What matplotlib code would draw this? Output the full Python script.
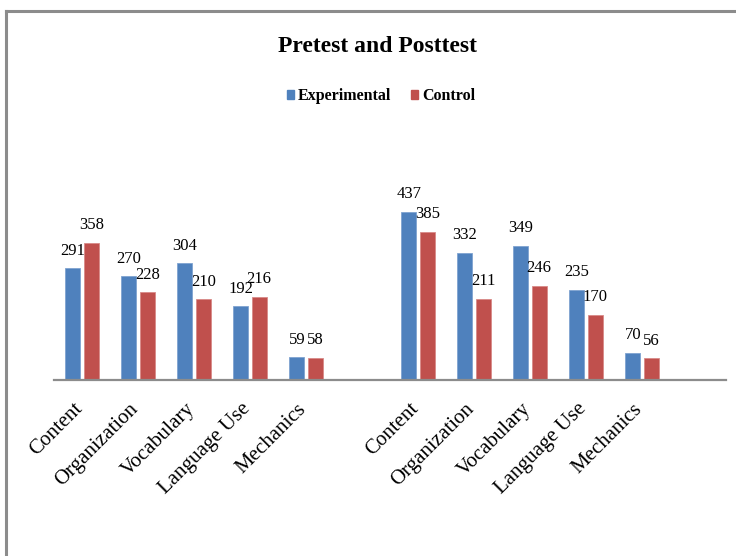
import matplotlib
matplotlib.use('Agg')
import matplotlib.pyplot as plt
import matplotlib.transforms as mtransforms
from matplotlib.lines import Line2D
import numpy as np

# data: pretest group, then posttest group
skills = ['Content', 'Organization', 'Vocabulary', 'Language Use', 'Mechanics']
pre_experimental = [291, 270, 304, 192, 59]
pre_control = [358, 228, 210, 216, 58]
post_experimental = [437, 332, 349, 235, 70]
post_control = [385, 211, 246, 170, 56]

blue = '#4F81BD'
red = '#C0504D'

plt.rcParams['font.family'] = ['Liberation Serif', 'DejaVu Serif']

fig = plt.figure(figsize=(7.36, 5.56), dpi=100)
ax = fig.add_axes([54 / 736, 176 / 556, 672 / 736, 192 / 556])

# two groups of five, one empty slot between them and one at the end
x = np.array(list(range(5)) + list(range(6, 11)))
exp_vals = pre_experimental + post_experimental
ctl_vals = pre_control + post_control
labels = skills + skills

w = 0.27
off = 0.165
b1 = ax.bar(x - off, exp_vals, w, color=blue, edgecolor='#7FA3D0', linewidth=0.6)
b2 = ax.bar(x + off, ctl_vals, w, color=red, edgecolor='#D88A88', linewidth=0.6)

for bars in (b1, b2):
    for b in bars:
        ax.annotate(str(int(b.get_height())),
                    (b.get_x() + b.get_width() / 2, b.get_height()),
                    xytext=(0, 7), textcoords='offset points',
                    ha='center', va='bottom', fontsize=12, annotation_clip=False)

ax.set_xlim(-0.5, 11.5)
ax.set_ylim(0, 500)
ax.set_yticks([])
ax.set_xticks(x)
ax.set_xticklabels(labels, rotation=45, ha='right', rotation_mode='anchor',
                   fontsize=15)
ax.tick_params(axis='x', length=0, pad=14)
# nudge the slanted labels left so their ends sit under the bars
shift = mtransforms.ScaledTranslation(-9 / 100, 0, fig.dpi_scale_trans)
for lab in ax.get_xticklabels():
    lab.set_transform(lab.get_transform() + shift)
for s in ['top', 'right', 'left']:
    ax.spines[s].set_visible(False)
ax.spines['bottom'].set_color('#8C8C8C')
ax.spines['bottom'].set_linewidth(1.6)
ax.patch.set_alpha(0)

fig.text(378 / 736, 1 - 47 / 556, 'Pretest and Posttest', ha='center', va='center',
         fontsize=17, fontweight='bold')

handles = [plt.Rectangle((0, 0), 1, 1, color=blue), plt.Rectangle((0, 0), 1, 1, color=red)]
fig.legend(handles, ['Experimental', 'Control'], loc='center',
           bbox_to_anchor=(381 / 736, 1 - 96 / 556), ncol=2, frameon=False,
           prop={'weight': 'bold', 'size': 11.5}, handlelength=0.45, handleheight=0.45,
           handletextpad=0.25, columnspacing=1.2)

# chart frame (left and top edges visible in the picture)
fig.add_artist(Line2D([6 / 736, 6 / 736], [0, 1 - 11 / 556], color='#8C8C8C', lw=2.2,
                      transform=fig.transFigure))
fig.add_artist(Line2D([6 / 736, 1], [1 - 11 / 556, 1 - 11 / 556], color='#8C8C8C', lw=2.2,
                      transform=fig.transFigure))

fig.savefig('out.png', dpi=100)
